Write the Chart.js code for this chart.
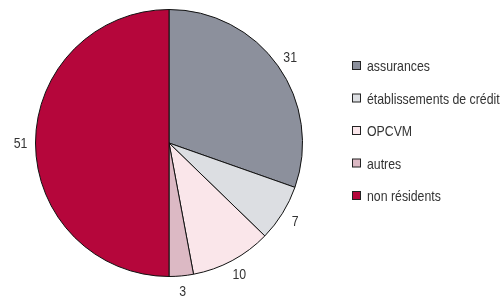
<!DOCTYPE html>
<html>
<head>
<meta charset="utf-8">
<script src="https://cdn.jsdelivr.net/npm/chart.js@4.4.0/dist/chart.umd.min.js"></script>
<style>
  html, body { margin: 0; padding: 0; background: #fff; }
  #wrap { width: 501px; height: 296px; position: relative; }
</style>
</head>
<body>
<div id="wrap"><canvas id="pieChart"></canvas></div>
<script>
// Répartition des détenteurs (en %)
const categories = ['assurances', 'établissements de crédit', 'OPCVM', 'autres', 'non résidents'];
const shares = [31, 7, 10, 3, 51];
const sliceColors = ['#8c909c', '#dcdee2', '#fae6ea', '#dcb9c4', '#b5063b'];

const FONT = '15px "Liberation Sans", Arial, sans-serif';
const SQUEEZE = 0.82; // the original text is a condensed face

function narrowText(ctx, text, x, y) {
    ctx.save();
    ctx.translate(x, y);
    ctx.scale(SQUEEZE, 1);
    ctx.fillText(text, 0, 0);
    ctx.restore();
}

// value labels just outside each slice
const outsideLabels = {
    id: 'outsideLabels',
    afterDatasetsDraw(chart) {
        const ctx = chart.ctx;
        const meta = chart.getDatasetMeta(0);
        ctx.save();
        ctx.font = FONT;
        ctx.fillStyle = '#333';
        ctx.textAlign = 'center';
        ctx.textBaseline = 'middle';
        meta.data.forEach((arc, i) => {
            const mid = (arc.startAngle + arc.endAngle) / 2;
            const r = arc.outerRadius + 15;
            narrowText(ctx, String(shares[i]), arc.x + Math.cos(mid) * r, arc.y + Math.sin(mid) * r + 1);
        });
        ctx.restore();
    }
};

// legend drawn on the right, one row per category
const sideLegend = {
    id: 'sideLegend',
    afterDraw(chart) {
        const ctx = chart.ctx;
        ctx.save();
        ctx.font = FONT;
        ctx.textBaseline = 'middle';
        categories.forEach((name, i) => {
            const y = 66 + i * 32.5;
            ctx.fillStyle = sliceColors[i];
            ctx.fillRect(352.5, y - 4.5, 8, 8);
            ctx.strokeStyle = '#222';
            ctx.lineWidth = 1;
            ctx.strokeRect(352.5, y - 4.5, 8, 8);
            ctx.fillStyle = '#333';
            narrowText(ctx, name, 367, y + 1);
        });
        ctx.restore();
    }
};

document.addEventListener('DOMContentLoaded', function() {
    new Chart(document.getElementById('pieChart'), {
        type: 'pie',
        data: {
            labels: categories,
            datasets: [{
                data: shares,
                backgroundColor: sliceColors,
                borderColor: '#111',
                borderWidth: 1,
                hoverOffset: 0
            }]
        },
        options: {
            responsive: true,
            maintainAspectRatio: false,
            animation: false,
            layout: { padding: { left: 35, right: 198, top: 9, bottom: 19 } },
            plugins: {
                legend: { display: false },
                tooltip: { enabled: false }
            }
        },
        plugins: [outsideLabels, sideLegend]
    });
});
</script>
</body>
</html>
